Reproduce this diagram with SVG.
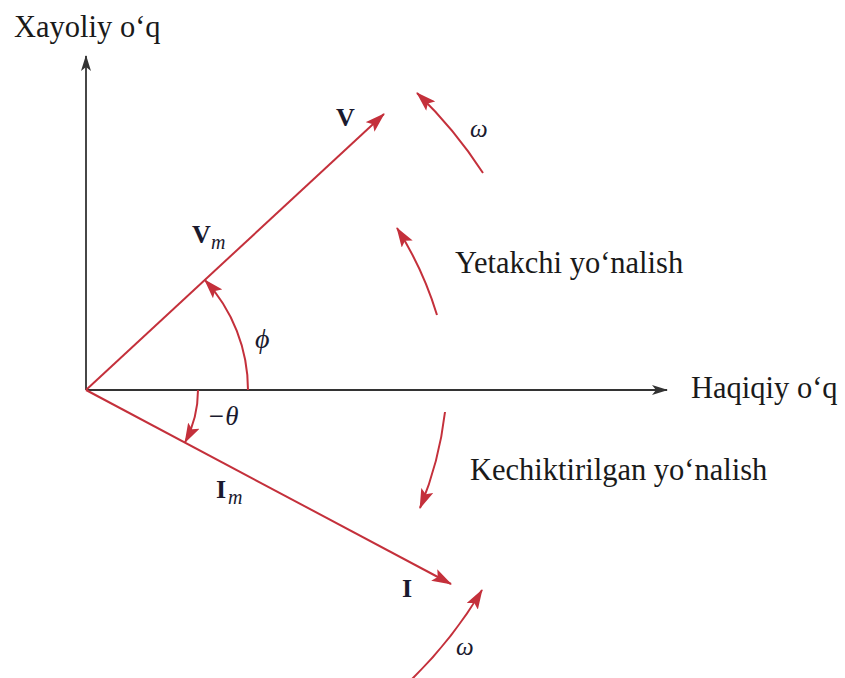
<svg xmlns="http://www.w3.org/2000/svg" width="845" height="678" viewBox="0 0 845 678">
<defs>
<style>
.ax{stroke:#333;stroke-width:1.8;fill:none}
.rv{stroke:#c4303b;stroke-width:2;fill:none}
.t{font-family:"Liberation Serif","Times New Roman",serif;font-size:30.5px;fill:#1a1a1a}
.b{font-family:"Liberation Serif","Times New Roman",serif;font-size:26px;font-weight:bold;fill:#1a1a2e}
.i{font-family:"Liberation Serif","DejaVu Serif",serif;font-style:italic;fill:#1a1a2e}
</style>
<marker id="ak" viewBox="0 0 16 10" refX="15" refY="5" markerWidth="16" markerHeight="10" markerUnits="userSpaceOnUse" orient="auto">
<path d="M0,0 L16,5 L0,10 L4,5 z" fill="#333"/>
</marker>
<marker id="ar" viewBox="0 0 20 13" refX="19" refY="6.5" markerWidth="20" markerHeight="13" markerUnits="userSpaceOnUse" orient="auto">
<path d="M0,0 L20,6.5 L0,13 L4,6.5 z" fill="#c4303b"/>
</marker>
</defs>
<rect width="845" height="678" fill="#fff"/>
<g id="connectors">
<line class="ax" x1="86" y1="390" x2="86" y2="56" marker-end="url(#ak)"/>
<line class="ax" x1="86" y1="390" x2="667" y2="390" marker-end="url(#ak)"/>
<line class="rv" x1="86" y1="390" x2="384" y2="114" marker-end="url(#ar)"/>
<line class="rv" x1="86" y1="390" x2="451" y2="584" marker-end="url(#ar)"/>
<path class="rv" d="M248,390 A162,162 0 0 0 204.8,279.9" marker-end="url(#ar)"/>
<path class="rv" d="M198,390 A112,112 0 0 1 185,442.4" marker-end="url(#ar)"/>
<path class="rv" d="M483,173 A448,448 0 0 0 417,93" marker-end="url(#ar)"/>
<path class="rv" d="M437,315 A355,355 0 0 0 397,228" marker-end="url(#ar)"/>
<path class="rv" d="M445,412 A357,357 0 0 1 420,508" marker-end="url(#ar)"/>
<path class="rv" d="M412,679 A440,440 0 0 0 482,590" marker-end="url(#ar)"/>
</g>
<g id="imag-axis-label"><text class="t" x="14" y="37">Xayoliy o‘q</text></g>
<g id="real-axis-label"><text class="t" x="691" y="398">Haqiqiy o‘q</text></g>
<g id="leading-label"><text class="t" x="455" y="273">Yetakchi yo‘nalish</text></g>
<g id="lagging-label"><text class="t" x="470" y="480">Kechiktirilgan yo‘nalish</text></g>
<g id="V"><text class="b" x="336" y="126">V</text></g>
<g id="Vm"><text class="b" x="192" y="243">V</text><text class="i" x="211" y="249" font-size="20">m</text></g>
<g id="phi"><text class="i" x="255" y="348" font-size="28">ϕ</text></g>
<g id="theta"><text class="i" x="207" y="425" font-size="27">−θ</text></g>
<g id="Im"><text class="b" x="216" y="498">I</text><text class="i" x="228" y="504" font-size="20">m</text></g>
<g id="I"><text class="b" x="402" y="597">I</text></g>
<g id="omega-top"><text class="i" x="470" y="137" font-size="25">ω</text></g>
<g id="omega-bottom"><text class="i" x="456" y="655" font-size="25">ω</text></g>
</svg>
